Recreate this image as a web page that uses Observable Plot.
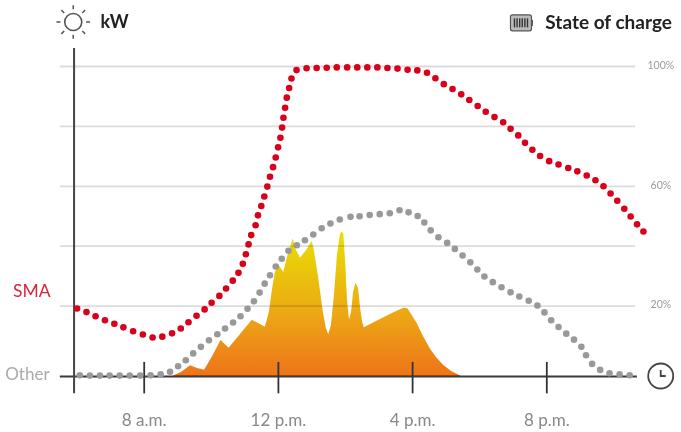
<!DOCTYPE html>
<html>
<head>
<meta charset="utf-8">
<style>html,body{margin:0;padding:0;background:#fff}svg{display:block}</style>
<script src="https://cdn.jsdelivr.net/npm/d3@7"></script>
<script src="https://cdn.jsdelivr.net/npm/@observablehq/plot@0.6"></script>
</head>
<body>
<div id="chart"></div>
<script>
// Hours of day, state of charge (%) of the battery from the SMA system
const smaHours = [6,6.28,6.55,6.83,7.11,7.38,7.67,7.96,8.25,8.54,8.83,9.09,9.32,9.56,9.8,10.01,10.24,10.44,10.64,10.81,10.94,11.03,11.11,11.19,11.32,11.39,11.49,11.58,11.67,11.75,11.84,11.92,11.99,12.06,12.11,12.15,12.2,12.25,12.32,12.39,12.54,12.84,13.14,13.44,13.74,14.05,14.35,14.65,14.95,15.25,15.55,15.85,16.14,16.43,16.68,16.93,17.19,17.45,17.69,17.94,18.18,18.44,18.7,18.92,19.15,19.35,19.57,19.8,20.07,20.35,20.64,20.91,21.19,21.45,21.69,21.9,22.1,22.31,22.5,22.69,22.88];
const smaCharge = [19.2,18,16.6,15.3,14.1,12.9,11.6,10.5,9.5,9.8,10.9,12.5,14.6,16.8,18.9,21.1,23.4,25.9,28.5,31.1,34.1,37.3,40.6,43.7,47,50.3,53.4,56.6,59.9,63.2,66.4,69.6,73,76.2,79.6,82.9,86.2,89.6,92.8,96,98.8,99.4,99.5,99.6,99.7,99.7,99.7,99.7,99.7,99.5,99.3,98.9,98.7,97.9,96.1,94.1,92.5,90.7,88.8,86.8,84.9,83.1,81.4,79.2,77,74.5,72.2,70.1,68.4,67.3,66.1,65,63.6,62,60,57.6,55.2,52.5,49.9,47.3,44.9];
// The other system's state of charge
const otherHours = [6.08,6.38,6.68,6.97,7.27,7.57,7.88,8.19,8.49,8.77,9.01,9.24,9.46,9.69,9.93,10.18,10.41,10.65,10.87,11.08,11.27,11.44,11.59,11.75,11.92,12.1,12.3,12.55,12.79,13.04,13.29,13.55,13.83,14.15,14.42,14.72,15.02,15.32,15.61,15.88,16.15,16.35,16.54,16.77,17.03,17.26,17.49,17.72,17.93,18.14,18.39,18.65,18.92,19.18,19.46,19.72,19.93,20.13,20.35,20.58,20.81,21.03,21.17,21.35,21.59,21.87,22.17,22.47];
const otherCharge = [-3.1,-3.2,-3.2,-3.2,-3.2,-3.2,-3.2,-3.1,-2.8,-1.9,-0.1,1.9,4.2,6.4,8.6,10.6,12.5,14.5,16.6,19.1,21.6,24.5,27.5,30.3,33.2,35.8,38.5,40.3,42,43.9,46,47.6,48.9,49.8,50,50.4,50.7,51,52,51.3,50.1,47.9,45.3,43,41.1,39.1,36.9,34.6,32.2,29.9,28,26.3,24.6,23.2,21.8,20.2,17.9,15.3,13,10.8,8.8,6.4,3.6,0.7,-1.3,-2.4,-2.8,-3.1];
// Solar output
const solarHours = [8.88,9.11,9.38,9.59,9.8,10.04,10.29,10.53,10.87,11.22,11.41,11.61,11.73,11.82,11.91,12.01,12.16,12.27,12.44,12.54,12.66,12.84,13.01,13.07,13.19,13.34,13.43,13.5,13.58,13.67,13.76,13.85,13.9,13.95,14.01,14.06,14.12,14.18,14.24,14.31,14.39,14.45,14.51,14.56,15.04,15.49,15.74,15.86,15.97,16.14,16.32,16.53,16.71,16.93,17.16,17.43];
const solarOutput = [-3.3,-2.2,0.1,-0.8,-1.4,3.2,8.5,5.9,10.5,15.3,14.2,12.9,17.9,25.2,31.2,33.8,31.2,36.2,42.4,38.6,36,38.6,41.6,38.6,30.2,17.9,12.5,10.4,13.5,23.5,36.9,43.9,44.7,43.9,33.6,21.9,15.4,17.9,24.5,27.6,25.9,19.2,14.5,12.8,15.5,18,19.3,19.1,17.2,14.1,9.9,5.7,2.8,0.2,-1.8,-3.3];

const gridLevels = [100,80,60,40,20];
const percentTicks = [100,60,20];
const timeTicks = [8,12,16,20];
const timeLabels = ["8 a.m.","12 p.m.","4 p.m.","8 p.m."];

const font = "Lato, 'Open Sans', sans-serif";
const BASE = -3.5;

const defs = () => {
  const d = d3.create("svg:defs");
  const g = d.append("linearGradient").attr("id","sun").attr("x1",0).attr("x2",0).attr("y1",0).attr("y2",1);
  g.append("stop").attr("offset","8%").attr("stop-color","#e8d806");
  g.append("stop").attr("offset","55%").attr("stop-color","#ecaa14");
  g.append("stop").attr("offset","100%").attr("stop-color","#ee741a");
  return d.node();
};

const icons = (index, {x, y}) => {
  const g = d3.create("svg:g").attr("fill","none").attr("stroke","#555");
  // sun
  const sx = x(5.9), sy = y(114.7);
  g.append("circle").attr("cx",sx).attr("cy",sy).attr("r",8.5).attr("stroke-width",1.6);
  d3.range(8).forEach(i => {
    const a = i * Math.PI / 4;
    g.append("line")
      .attr("x1",sx+12.8*Math.cos(a)).attr("y1",sy+12.8*Math.sin(a))
      .attr("x2",sx+16.8*Math.cos(a)).attr("y2",sy+16.8*Math.sin(a))
      .attr("stroke-width",1.5);
  });
  // battery
  const bx = x(19.26), by = y(114.4);
  g.append("rect").attr("x",bx-11).attr("y",by-8).attr("width",21).attr("height",16).attr("rx",2)
    .attr("fill","#bbb").attr("stroke","#555").attr("stroke-width",1.2);
  g.append("rect").attr("x",bx+10).attr("y",by-3).attr("width",1.5).attr("height",6).attr("fill","#555").attr("stroke","none");
  d3.range(6).forEach(i => {
    g.append("line").attr("x1",bx-7+i*2.6).attr("x2",bx-7+i*2.6).attr("y1",by-4.5).attr("y2",by+4.5)
      .attr("stroke","#333").attr("stroke-width",1.4);
  });
  // clock
  const cx = x(23.41), cy = y(BASE);
  g.append("circle").attr("cx",cx).attr("cy",cy).attr("r",12.5).attr("stroke","#444").attr("stroke-width",1.8);
  g.append("path").attr("d",`M${cx},${cy-6}V${cy}H${cx+5}`).attr("stroke","#444").attr("stroke-width",1.8);
  return g.node();
};

const chart = Plot.plot({
  width: 681,
  height: 432,
  margin: 0,
  style: {background:"#fff", fontFamily: font},
  x: {domain:[8,20], range:[143.7,546.3], axis:null},
  y: {domain:[0,100], range:[365.5,66], axis:null},
  marks: [
    defs,
    Plot.ruleY(gridLevels, {x1:5.5, x2:22.65, stroke:"#dcdcdc", strokeWidth:1.8}),
    Plot.areaY(solarHours.map((h,i)=>({h,v:solarOutput[i]})), {
      x:"h", y1:BASE, y2:"v", curve:"linear", fill:"url(#sun)", mixBlendMode:"multiply"
    }),
    Plot.ruleY([BASE], {x1:5.5, x2:22.7, stroke:"#3a3a3a", strokeWidth:1.8, mixBlendMode:"multiply"}),
    Plot.ruleX([5.91], {y1:106, y2:-9.3, stroke:"#444", strokeWidth:2}),
    Plot.ruleX(timeTicks, {y1:1.2, y2:-9.3, stroke:"#333", strokeWidth:1.8}),
    Plot.dot(otherHours.map((h,i)=>({h,v:otherCharge[i]})), {x:"h", y:"v", r:3.3, fill:"#999", stroke:null}),
    Plot.dot(smaHours.map((h,i)=>({h,v:smaCharge[i]})), {x:"h", y:"v", r:3.3, fill:"#d8001a", stroke:null}),
    Plot.text(timeTicks, {x:d=>d, y:-18.2, text:(d,i)=>timeLabels[i], fontSize:17, fill:"#888", fontWeight:400}),
    Plot.text(percentTicks, {x:23.4, y:d=>d, dy:-1, text:d=>d+"%", fontSize:10.5, fill:"#999"}),
    Plot.text(["SMA"], {x:5.21, y:24.9, textAnchor:"end", fontSize:17.5, fill:"#d8263a"}),
    Plot.text(["Other"], {x:5.18, y:-2.8, textAnchor:"end", fontSize:17, fill:"#aaa"}),
    Plot.text(["kW"], {x:6.7, y:114.7, textAnchor:"start", fontSize:18, fontWeight:700, fill:"#222"}),
    Plot.text(["State of charge"], {x:23.73, y:114.5, textAnchor:"end", fontSize:19, fontWeight:700, fill:"#222"}),
    icons
  ]
});
document.getElementById("chart").append(chart);
</script>
</body>
</html>
